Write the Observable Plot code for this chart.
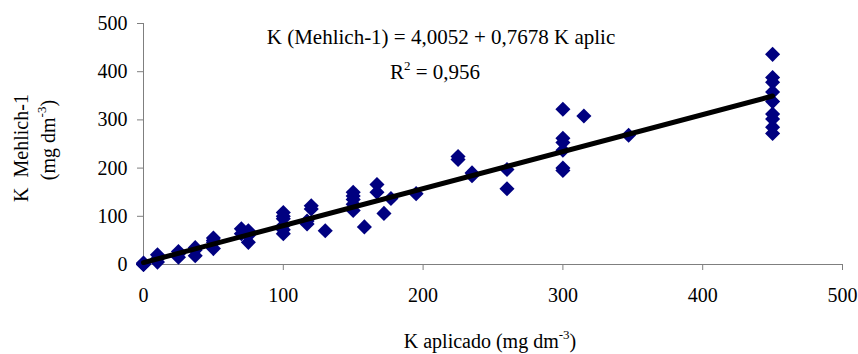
<!DOCTYPE html>
<html><head><meta charset="utf-8">
<script src="https://cdn.jsdelivr.net/npm/d3@7"></script>
<script src="https://cdn.jsdelivr.net/npm/@observablehq/plot@0.6"></script>
<style>html,body{margin:0;padding:0;background:#fff}#chart svg{display:block}</style>
</head><body><div id="chart"></div>
<script>
// K applied (mg dm-3) and K Mehlich-1 (mg dm-3)
const kAplicado = [
  0, 0, 0, 0,
  10, 10, 10,
  25, 25, 25,
  37, 37, 37,
  50, 50, 50, 50,
  70, 70,
  75, 75, 75,
  100, 100, 100, 100, 100, 100,
  117, 117,
  120, 120,
  130,
  150, 150, 150, 150, 150,
  158,
  167, 167,
  172,
  177,
  195,
  225, 225,
  235, 235,
  260, 260,
  300, 300, 300, 300, 300, 300,
  315,
  347,
  450, 450, 450, 450, 450, 450, 450, 450, 450
];
const kMehlich = [
  0, 0, 2, 3,
  5, 12, 20,
  15, 22, 27,
  18, 30, 35,
  33, 46, 55, 50,
  64, 74,
  46, 60, 70,
  64, 72, 81, 95, 100, 108,
  84, 90,
  115, 122,
  70,
  112, 125, 135, 142, 150,
  78,
  150, 166,
  106,
  137,
  147,
  218, 224,
  184, 190,
  157, 197,
  195, 200, 237, 253, 262, 322,
  308,
  268,
  272, 285, 302, 312, 338, 358, 378, 388, 436
];
const xTicks = [0, 100, 200, 300, 400, 500];
const yTicks = [0, 100, 200, 300, 400, 500];
const fitIntercept = 4.0052;
const fitSlope = 0.7678;
const fitRange = [0, 450];
const equationText = "K (Mehlich-1) = 4,0052 + 0,7678 K aplic";
const r2Value = "0,956";
const xLabel = "K aplicado (mg dm";
const yLabel1 = "K\u00a0 Mehlich-1";
const yLabel2 = "(mg dm";

const points = kAplicado.map((x, i) => ({x, y: kMehlich[i]}));
const fit = fitRange.map(x => ({x, y: fitIntercept + fitSlope * x}));

const FONT = "'Liberation Serif','Times New Roman',serif";
const plot = Plot.plot({
  width: 858, height: 354,
  marginLeft: 143, marginRight: 16, marginTop: 23, marginBottom: 90,
  style: {fontFamily: FONT, fontSize: "20px", background: "#fff", color: "#000"},
  x: {domain: [0, 500]},
  y: {domain: [0, 500]},
  marks: [
    Plot.axisX(xTicks, {tickSize: 6, tickPadding: 17, stroke: "#7f7f7f", fill: "#000", label: null, fontSize: 20}),
    Plot.axisY(yTicks, {tickSize: 6, tickPadding: 10, stroke: "#7f7f7f", fill: "#000", label: null, fontSize: 20}),
    Plot.ruleY([0], {stroke: "#7f7f7f"}),
    Plot.ruleX([0], {stroke: "#7f7f7f"}),
    Plot.dot(points, {x: "x", y: "y", symbol: "diamond2", r: 6.8, fill: "#000080", stroke: "none"}),
    Plot.line(fit, {x: "x", y: "y", stroke: "#000", strokeWidth: 5})
  ]
});
document.getElementById("chart").appendChild(plot);

const svg = d3.select(plot);
function addText(x, y, parts, rotate, size = 20) {
  const t = svg.append("text")
    .attr("transform", `translate(${x},${y})` + (rotate ? " rotate(-90)" : ""))
    .attr("text-anchor", "middle")
    .attr("font-family", FONT)
    .attr("font-size", size)
    .attr("fill", "#000")
    .style("white-space", "pre");
  parts.forEach(p => {
    const s = t.append("tspan").text(p.t);
    if (p.sup) s.attr("font-size", 13).attr("dy", -9);
    if (p.after) s.attr("dy", 9);
  });
  return t;
}
addText(441, 44, [{t: equationText}], false, 21);
addText(435, 79, [{t: "R"}, {t: "2", sup: true}, {t: " = " + r2Value, after: true}], false, 21);
addText(490, 348, [{t: xLabel}, {t: "-3", sup: true}, {t: ")", after: true}]);
addText(28, 148, [{t: yLabel1}], true);
addText(55, 140, [{t: yLabel2}, {t: "-3", sup: true}, {t: ")", after: true}], true);
</script>
</body></html>
